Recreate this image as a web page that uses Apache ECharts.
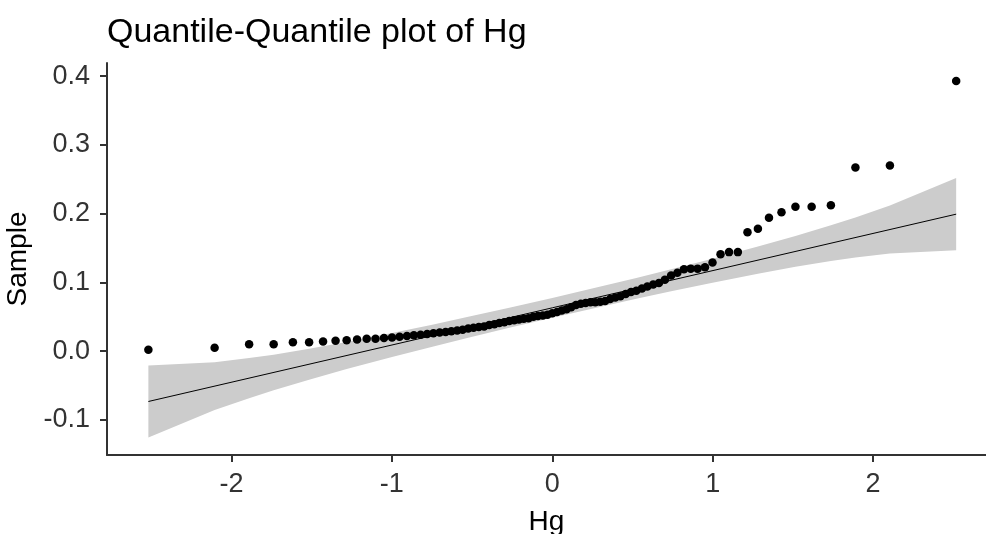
<!DOCTYPE html>
<html>
<head>
<meta charset="utf-8">
<script src="https://cdn.jsdelivr.net/npm/echarts@6/dist/echarts.min.js"></script>
<style>
  html, body { margin: 0; padding: 0; background: #ffffff; }
  #chart { width: 986px; height: 534px; }
</style>
</head>
<body>
<div id="chart"></div>
<script>
// Theoretical normal quantiles (x) for the 85 sorted samples
var theoretical = [
  -2.518, -2.105, -1.890, -1.737, -1.617, -1.516, -1.429, -1.351, -1.282, -1.217,
  -1.157, -1.102, -1.049, -0.999, -0.952, -0.906, -0.863, -0.821, -0.780, -0.741,
  -0.702, -0.665, -0.629, -0.593, -0.559, -0.524, -0.491, -0.458, -0.425, -0.393,
  -0.361, -0.330, -0.299, -0.268, -0.238, -0.208, -0.178, -0.148, -0.118, -0.089,
  -0.059, -0.030, 0.000, 0.030, 0.059, 0.089, 0.118, 0.148, 0.178, 0.208,
  0.238, 0.268, 0.299, 0.330, 0.361, 0.393, 0.425, 0.458, 0.491, 0.524,
  0.559, 0.593, 0.629, 0.665, 0.702, 0.741, 0.780, 0.821, 0.863, 0.906,
  0.952, 0.999, 1.049, 1.102, 1.157, 1.217, 1.282, 1.351, 1.429, 1.516,
  1.617, 1.737, 1.890, 2.105, 2.518
];
// Sample (Hg) values, sorted
var sample = [
  0.002, 0.005, 0.010, 0.010, 0.013, 0.013, 0.014, 0.015, 0.016, 0.017,
  0.018, 0.018, 0.019, 0.020, 0.021, 0.022, 0.023, 0.024, 0.025, 0.026,
  0.027, 0.028, 0.029, 0.030, 0.031, 0.033, 0.034, 0.035, 0.036, 0.038,
  0.039, 0.041, 0.042, 0.044, 0.045, 0.046, 0.047, 0.048, 0.050, 0.051,
  0.052, 0.053, 0.055, 0.057, 0.059, 0.061, 0.064, 0.067, 0.069, 0.070,
  0.071, 0.071, 0.072, 0.073, 0.076, 0.078, 0.080, 0.083, 0.086, 0.088,
  0.091, 0.094, 0.097, 0.099, 0.104, 0.110, 0.114, 0.119, 0.120, 0.120,
  0.122, 0.129, 0.141, 0.144, 0.144, 0.173, 0.178, 0.194, 0.202, 0.210,
  0.210, 0.212, 0.267, 0.270, 0.393
];
// Confidence band (pointwise)
var bandX = [-2.518, -2.105, -1.890, -1.737, -1.516, -1.282, -0.999, -0.741, -0.524, -0.268, 0,
             0.268, 0.524, 0.741, 0.999, 1.282, 1.516, 1.737, 1.890, 2.105, 2.518];
var bandLower = [-0.1256, -0.0857, -0.0683, -0.0569, -0.0414, -0.0261, -0.0084, 0.0069, 0.0195, 0.0339, 0.0486,
                 0.0629, 0.0761, 0.0871, 0.0996, 0.1127, 0.1226, 0.1311, 0.1361, 0.1421, 0.1468];
var bandUpper = [-0.0208, -0.0161, -0.0101, -0.0051, 0.0034, 0.0133, 0.0264, 0.0389, 0.0499, 0.0631, 0.0774,
                 0.0921, 0.1065, 0.1191, 0.1344, 0.1521, 0.1674, 0.1829, 0.1943, 0.2117, 0.2516];
// Reference line end points
var lineX = [-2.518, 2.518];
var lineY = [-0.0732, 0.1992];
// Tick labels
var xTicks = [-2, -1, 0, 1, 2];
var yTicks = [-0.1, 0.0, 0.1, 0.2, 0.3, 0.4];

var FONT = '"Liberation Sans", Arial, sans-serif';

var bandData = bandX.map(function (x, i) { return [x, bandLower[i], bandUpper[i]]; });
var lineData = lineX.map(function (x, i) { return [x, lineY[i]]; });
var pointData = theoretical.map(function (x, i) { return [x, sample[i]]; });

function renderBand(params, api) {
  if (params.dataIndex !== 0) { return null; }
  var pts = [];
  var i;
  for (i = 0; i < bandX.length; i++) { pts.push(api.coord([bandX[i], bandUpper[i]])); }
  for (i = bandX.length - 1; i >= 0; i--) { pts.push(api.coord([bandX[i], bandLower[i]])); }
  return {
    type: 'polygon',
    shape: { points: pts },
    style: { fill: '#cccccc', stroke: null }
  };
}

var chart = echarts.init(document.getElementById('chart'), null, { renderer: 'canvas' });
chart.setOption({
  animation: false,
  backgroundColor: '#ffffff',
  title: {
    text: 'Quantile-Quantile plot of Hg',
    left: 107,
    top: 16,
    padding: 0,
    textStyle: { fontFamily: FONT, fontSize: 34, fontWeight: 'normal', color: '#000000' }
  },
  grid: { left: 107, right: 0, top: 63, bottom: 79, containLabel: false, outerBoundsMode: 'none' },
  xAxis: {
    type: 'value',
    min: -2.776,
    max: 2.704,
    name: 'Hg',
    nameLocation: 'middle',
    nameGap: 53,
    nameTextStyle: { fontFamily: FONT, fontSize: 28, color: '#000000' },
    axisLine: { show: true, onZero: false, lineStyle: { color: '#333333', width: 2 } },
    axisTick: { show: true, length: 7, customValues: xTicks, lineStyle: { color: '#333333', width: 2 } },
    axisLabel: {
      customValues: xTicks,
      margin: 16,
      fontFamily: FONT, fontSize: 27, color: '#333333',
      formatter: function (v) { return String(Math.round(v)); }
    },
    splitLine: { show: false }
  },
  yAxis: {
    type: 'value',
    min: -0.151,
    max: 0.419,
    name: 'Sample',
    nameLocation: 'middle',
    nameRotate: 90,
    nameGap: 72,
    nameTextStyle: { fontFamily: FONT, fontSize: 28, color: '#000000' },
    axisLine: { show: true, onZero: false, lineStyle: { color: '#333333', width: 2 } },
    axisTick: { show: true, length: 7, customValues: yTicks, lineStyle: { color: '#333333', width: 2 } },
    axisLabel: {
      customValues: yTicks,
      margin: 17,
      padding: [9, 0, 0, 0],
      fontFamily: FONT, fontSize: 27, color: '#333333',
      formatter: function (v) { return v.toFixed(1); }
    },
    splitLine: { show: false }
  },
  series: [
    {
      name: 'band', type: 'custom', data: bandData,
      renderItem: renderBand,
      encode: { x: 0, y: [1, 2] },
      silent: true, z: 1
    },
    {
      name: 'qqline', type: 'line', data: lineData, symbol: 'none',
      lineStyle: { color: '#000000', width: 1 }, silent: true, z: 2
    },
    {
      name: 'points', type: 'scatter', data: pointData,
      symbol: 'circle', symbolSize: 8.5,
      itemStyle: { color: '#000000', opacity: 1 }, z: 3
    }
  ]
});
</script>
</body>
</html>
